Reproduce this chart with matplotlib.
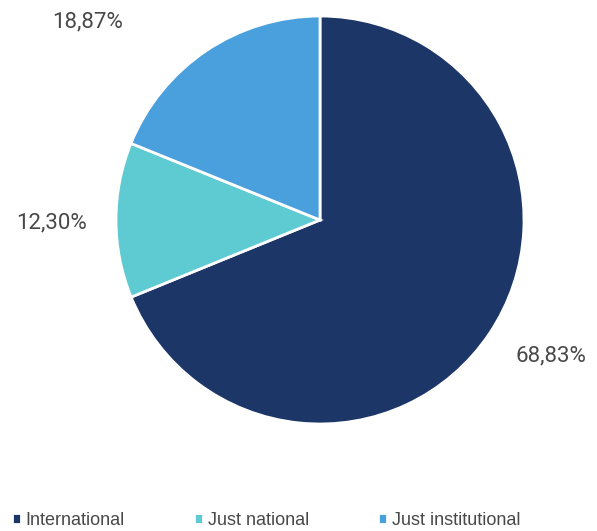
import matplotlib
matplotlib.use("Agg")
import matplotlib.pyplot as plt

categories = ["International", "Just national", "Just institutional"]
shares = [68.83, 12.30, 18.87]
colors = ["#1c3668", "#5ecad1", "#49a0dc"]

# label anchor points in axis units (pie radius = 1)
label_pos = [(1.132, -0.667), (-1.315, -0.015), (-1.14, 0.97)]

fig = plt.figure(figsize=(5.97, 5.31), dpi=100)
ax = fig.add_axes([(320 - 204) / 597, (311 - 204) / 531, 408 / 597, 408 / 531])

wedges, _ = ax.pie(shares, colors=colors, startangle=90, counterclock=False,
                   wedgeprops=dict(edgecolor="white", linewidth=2))
ax.set_xlim(-1, 1)
ax.set_ylim(-1, 1)

for (x, y), v in zip(label_pos, shares):
    txt = f"{v:.2f}%".replace(".", ",")
    ax.text(x, y, txt, ha="center", va="center", fontsize=16,
            family="Roboto", color="#484848", clip_on=False)

# legend row along the bottom, columns spread across the width
fig.legend(wedges, categories, loc="lower left",
           bbox_to_anchor=(12 / 597, 0.004, 508 / 597, 0.03), mode="expand",
           ncol=3, frameon=False, prop=dict(family="Liberation Sans", size=13),
           handlelength=0.5, handleheight=0.5, handletextpad=0.25,
           labelcolor="#484848", borderaxespad=0, borderpad=0)

fig.savefig("out.png", dpi=100)
